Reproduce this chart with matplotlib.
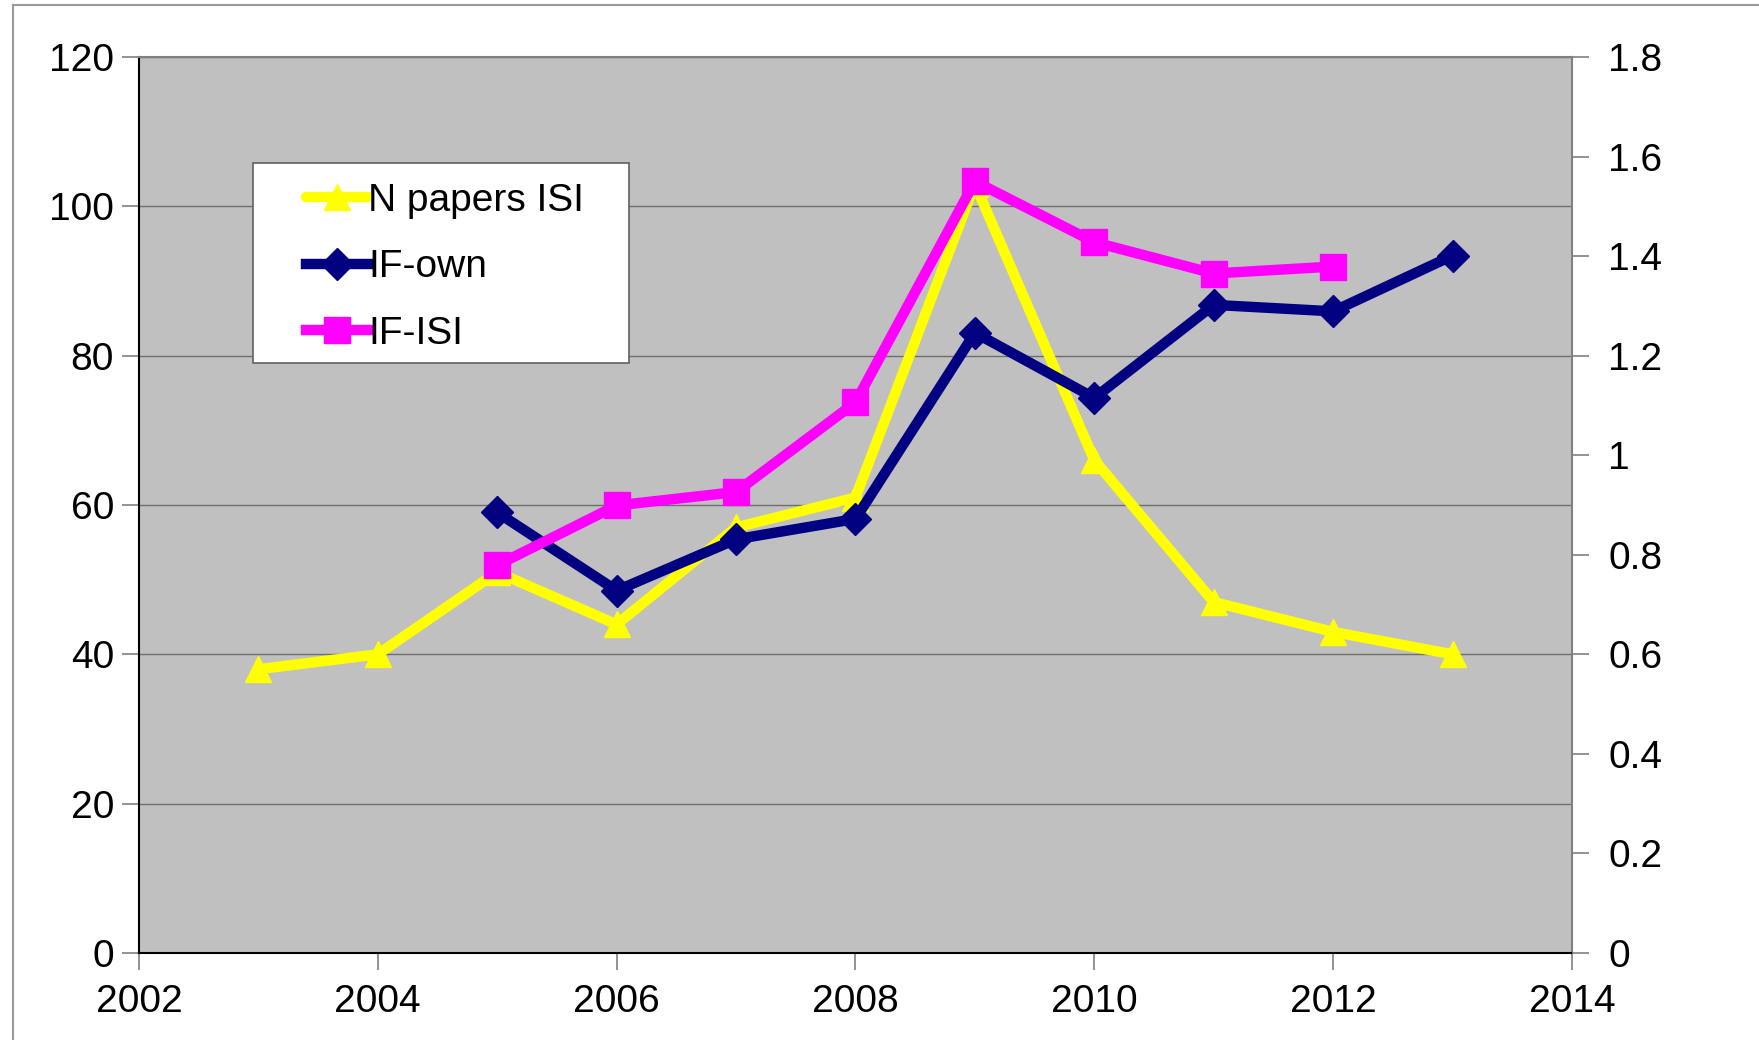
import numpy as np
import matplotlib
matplotlib.use('Agg')
import matplotlib.pyplot as plt
from matplotlib.lines import Line2D
from matplotlib.patches import Rectangle
from matplotlib.ticker import FuncFormatter

plt.rcParams['font.family'] = ['Liberation Sans', 'DejaVu Sans']

########## Data ##########
years_papers = [2003, 2004, 2005, 2006, 2007, 2008, 2009, 2010, 2011, 2012, 2013]
n_papers_isi = [38, 40, 51, 44, 57, 61, 103, 66, 47, 43, 40]

years_own = [2005, 2006, 2007, 2008, 2009, 2010, 2011, 2012, 2013]
if_own = [0.885, 0.728, 0.831, 0.872, 1.246, 1.115, 1.302, 1.289, 1.401]

years_isi = [2005, 2006, 2007, 2008, 2009, 2010, 2011, 2012]
if_isi = [0.779, 0.899, 0.926, 1.106, 1.550, 1.428, 1.365, 1.379]

x_ticks = [2002, 2004, 2006, 2008, 2010, 2012, 2014]
left_ticks = [0, 20, 40, 60, 80, 100, 120]
right_ticks = [0, 0.2, 0.4, 0.6, 0.8, 1.0, 1.2, 1.4, 1.6, 1.8]

fs = 28
lw = 7.5
ms = 19

W, H = 1759., 1040.

fig = plt.figure(figsize=(17.59, 10.40), dpi=100)
ax = fig.add_axes([0.0790, 0.0837, 0.8147, 0.8615])
ax2 = ax.twinx()

ax.set_facecolor('#C0C0C0')

for t in left_ticks[1:]:
    ax.axhline(t, color='#6E6E6E', lw=1.0, zorder=1)

# N papers on the left axis, IF values on the right axis
p1, = ax.plot(years_papers, n_papers_isi, color='#FFFF00', lw=lw,
              marker='^', ms=ms, solid_joinstyle='round',
              solid_capstyle='round', label='N papers ISI', zorder=3)
p2, = ax2.plot(years_own, if_own, color='#000080', lw=lw, marker='D',
               ms=ms * 0.85, solid_joinstyle='round', label='IF-own', zorder=4)
p3, = ax2.plot(years_isi, if_isi, color='#FF00FF', lw=lw, marker='s',
               ms=ms, solid_joinstyle='round', label='IF-ISI', zorder=5)

ax.set_xlim(2002, 2014)
ax.set_ylim(0, 120)
ax2.set_ylim(0, 1.8)
ax.set_xticks(x_ticks)
ax.set_yticks(left_ticks)
ax2.set_yticks(right_ticks)
ax2.yaxis.set_major_formatter(FuncFormatter(lambda v, p: '%g' % round(v, 1)))

for a in (ax, ax2):
    for s in a.spines.values():
        s.set_visible(False)
ax.spines['left'].set_visible(True)
ax.spines['left'].set_color('black')
ax.spines['bottom'].set_visible(True)
ax.spines['bottom'].set_color('black')
ax.spines['top'].set_visible(True)
ax.spines['top'].set_color('#808080')
ax.spines['right'].set_visible(True)
ax.spines['right'].set_color('#808080')
for s in ax.spines.values():
    s.set_linewidth(1.5)

ax.tick_params(axis='both', labelsize=fs, length=12, width=1.2,
               color='#808080', direction='out', pad=6)
ax.tick_params(axis='x', pad=10)
ax2.tick_params(axis='y', labelsize=fs, length=12, width=1.2,
                color='#808080', direction='out', pad=14)

# legend box drawn by hand, legend itself without frame
box = Rectangle((253 / W, 1 - 363 / H), (629 - 253) / W, (363 - 163) / H,
                transform=fig.transFigure, facecolor='white',
                edgecolor='#606060', lw=1.2, zorder=9)
fig.add_artist(box)
leg = fig.legend(handles=[p1, p2, p3], loc='upper left',
                 bbox_to_anchor=(306 / W, 1 - 183 / H),
                 fontsize=fs, frameon=False, handlelength=1.6,
                 handletextpad=0.0, borderpad=0, labelspacing=0.78,
                 borderaxespad=0)
leg.set_zorder(10)

# outer chart border
fig.add_artist(Line2D([13 / W, 1.0], [1 - 5 / H] * 2,
                      transform=fig.transFigure, color='#9A9A9A', lw=1.5))
fig.add_artist(Line2D([13 / W] * 2, [0.0, 1 - 5 / H],
                      transform=fig.transFigure, color='#9A9A9A', lw=1.5))

fig.savefig('out.png', dpi=100)
